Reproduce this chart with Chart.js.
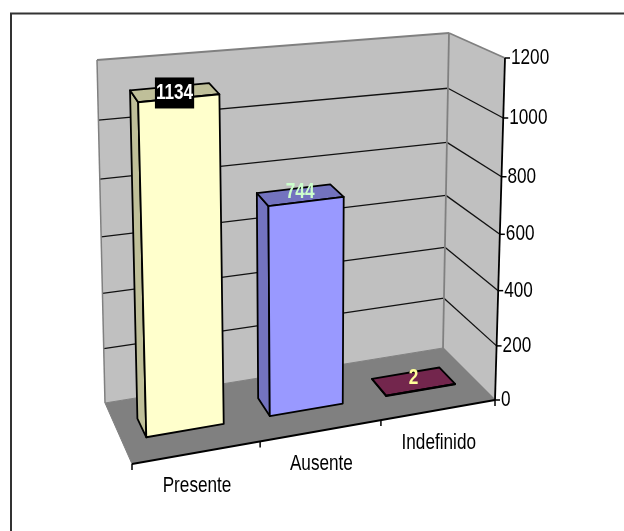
<!DOCTYPE html>
<html>
<head>
<meta charset="utf-8">
<style>
  html, body { margin: 0; padding: 0; background: #fff; }
  canvas { display: block; }
</style>
<script src="https://cdn.jsdelivr.net/npm/chart.js@4"></script>
</head>
<body>
<canvas id="chart" width="624" height="531"></canvas>
<script>
const categories = ['Presente', 'Ausente', 'Indefinido'];
const values = [1134, 744, 2];
const barColors = ['#FFFFCC', '#9999FF', '#993366'];
const labelColors = ['#FFFFFF', '#CCFFCC', '#FFFF99'];
const labelBackgrounds = ['#000000', null, null];
const axisMin = 0;
const axisMax = 1200;
const axisStep = 200;

// Corners of the 3D plot box on the page: [front/back][left/right], floor and ceiling.
const BOX = {
  floorFrontL: [132, 464], floorFrontR: [495, 400],
  floorBackL: [105, 403], floorBackR: [443, 348],
  topFrontL: [121, 98], topFrontR: [505, 58],
  topBackL: [97, 60], topBackR: [449, 33]
};
const PERSP_U = 0.091, PERSP_V = -0.06;
const BAR_FRONT = 0.37, BAR_BACK = 0.68;
const FONT_FAMILY = '"Liberation Sans", Arial, sans-serif';
const TEXT_SQUEEZE = 0.78;

const mix = (a, b, t) => [a[0] + (b[0] - a[0]) * t, a[1] + (b[1] - a[1]) * t];

// Maps (u along categories, v up the value axis, w into the depth) to the page.
function project(u, v, w) {
  const pu = u * (1 + PERSP_U) / (1 + PERSP_U * u);
  const pv = v * (1 + PERSP_V) / (1 + PERSP_V * v);
  const floor = mix(mix(BOX.floorFrontL, BOX.floorFrontR, pu), mix(BOX.floorBackL, BOX.floorBackR, pu), w);
  const top = mix(mix(BOX.topFrontL, BOX.topFrontR, pu), mix(BOX.topBackL, BOX.topBackR, pu), w);
  return mix(floor, top, pv);
}

function poly(ctx, pts, fill, stroke, lw) {
  ctx.beginPath();
  pts.forEach((p, i) => i ? ctx.lineTo(p[0], p[1]) : ctx.moveTo(p[0], p[1]));
  ctx.closePath();
  if (fill) { ctx.fillStyle = fill; ctx.fill(); }
  if (stroke) { ctx.strokeStyle = stroke; ctx.lineWidth = lw; ctx.lineJoin = 'round'; ctx.stroke(); }
}

function line(ctx, a, b, color, lw) {
  ctx.beginPath();
  ctx.moveTo(a[0], a[1]);
  ctx.lineTo(b[0], b[1]);
  ctx.strokeStyle = color;
  ctx.lineWidth = lw;
  ctx.stroke();
}

// Horizontally condensed text, as the chart's typeface is set tall and narrow.
function squeezedText(ctx, text, x, y) {
  ctx.save();
  ctx.translate(x, y);
  ctx.scale(TEXT_SQUEEZE, 1);
  ctx.fillText(text, 0, 0);
  ctx.restore();
}

function shade(hex, f) {
  const n = parseInt(hex.slice(1), 16);
  const c = [n >> 16, (n >> 8) & 255, n & 255].map(x => Math.round(x * f));
  return `rgb(${c[0]},${c[1]},${c[2]})`;
}

// Bar element that turns the rectangle laid out by the scales into a box in the projection.
class Box3DElement extends Chart.BarElement {
  draw(ctx) {
    const area = this.$context.chart.chartArea;
    const U = x => (x - area.left) / area.width;
    const V = y => (area.bottom - y) / area.height;
    const u0 = U(this.x - this.width / 2), u1 = U(this.x + this.width / 2);
    const v0 = V(this.base), v1 = V(this.y);
    const color = this.options.backgroundColor;
    const side = shade(color, 0.75);
    ctx.save();
    poly(ctx, [project(u0, v0, BAR_FRONT), project(u0, v0, BAR_BACK), project(u0, v1, BAR_BACK), project(u0, v1, BAR_FRONT)], side, '#000', 1.8);
    poly(ctx, [project(u0, v1, BAR_FRONT), project(u0, v1, BAR_BACK), project(u1, v1, BAR_BACK), project(u1, v1, BAR_FRONT)], side, '#000', 1.8);
    poly(ctx, [project(u0, v0, BAR_FRONT), project(u1, v0, BAR_FRONT), project(u1, v1, BAR_FRONT), project(u0, v1, BAR_FRONT)], color, '#000', 1.8);
    ctx.restore();
  }
}
Box3DElement.id = 'box3d';
Box3DElement.defaults = Chart.BarElement.defaults;
Box3DElement.defaultRoutes = Chart.BarElement.defaultRoutes;

class Box3DController extends Chart.BarController {}
Box3DController.id = 'box3d';
Box3DController.defaults = Object.assign({}, Chart.BarController.defaults, { dataElementType: 'box3d' });
Box3DController.overrides = Chart.BarController.overrides;
Chart.register(Box3DElement, Box3DController);

const scene = {
  id: 'scene',
  beforeDatasetsDraw(chart) {
    const { ctx, scales: { y }, chartArea: area } = chart;
    const vOf = t => (area.bottom - y.getPixelForValue(t)) / area.height;
    ctx.save();
    // Outline of the chart object: only its top and left edges fall on the page.
    line(ctx, [10, 13.5], [624, 13.5], '#333', 2);
    line(ctx, [11, 13], [11, 531], '#333', 2);
    // Walls and floor
    poly(ctx, [project(0, 0, 1), project(1, 0, 1), project(1, 1, 1), project(0, 1, 1)], '#C0C0C0');
    poly(ctx, [project(1, 0, 1), project(1, 0, 0), project(1, 1, 0), project(1, 1, 1)], '#C0C0C0');
    poly(ctx, [project(0, 0, 0), project(1, 0, 0), project(1, 0, 1), project(0, 0, 1)], '#808080');
    // Gridlines run along the back wall and then forward along the right wall
    y.ticks.forEach(t => {
      if (t.value === axisMin || t.value === axisMax) return;
      const v = vOf(t.value);
      line(ctx, project(0, v, 1), project(1, v, 1), '#111', 1.3);
      line(ctx, project(1, v, 1), project(1, v, 0), '#111', 1.3);
    });
    // Wall edges
    const edge = '#808080';
    line(ctx, project(0, 0, 1), project(0, 1, 1), edge, 1.5);
    line(ctx, project(0, 1, 1), project(1, 1, 1), edge, 1.8);
    line(ctx, project(1, 0, 1), project(1, 1, 1), edge, 1.8);
    line(ctx, project(1, 1, 1), project(1, 1, 0), edge, 1.8);
    line(ctx, project(0, 0, 1), project(1, 0, 1), edge, 1);
    line(ctx, project(1, 0, 1), project(1, 0, 0), edge, 1.5);
    line(ctx, project(0, 0, 1), project(0, 0, 0), edge, 1);
    ctx.restore();
  },
  afterDatasetsDraw(chart) {
    const { ctx, scales: { x, y }, chartArea: area } = chart;
    const vOf = t => (area.bottom - y.getPixelForValue(t)) / area.height;
    const uOf = p => (p - area.left) / area.width;
    ctx.save();
    // Value axis on the front right corner
    line(ctx, project(1, 0, 0), project(1, 1, 0), '#000', 1.8);
    ctx.textBaseline = 'middle';
    ctx.textAlign = 'left';
    ctx.font = `22px ${FONT_FAMILY}`;
    ctx.fillStyle = '#000';
    y.ticks.forEach(t => {
      const p = project(1, vOf(t.value), 0);
      line(ctx, p, [p[0] + 5, p[1]], '#000', 1.5);
      squeezedText(ctx, String(t.value), p[0] + 6, p[1]);
    });
    // Category axis on the front floor edge
    line(ctx, project(0, 0, 0), project(1, 0, 0), '#000', 1.8);
    for (let k = 0; k <= categories.length; k++) {
      const p = project(k / categories.length, 0, 0);
      line(ctx, p, [p[0], p[1] + 6], '#000', 1.5);
    }
    ctx.textAlign = 'center';
    x.ticks.forEach((t, i) => {
      const p = project(uOf(x.getPixelForTick(i)), 0, 0);
      squeezedText(ctx, categories[t.value], p[0], p[1] + 33);
    });
    // Value labels sit on the centre of each bar's top face
    ctx.font = `bold 22px ${FONT_FAMILY}`;
    chart.getDatasetMeta(0).data.forEach((bar, i) => {
      const p = project(uOf(bar.x), vOf(values[i]), (BAR_FRONT + BAR_BACK) / 2);
      const text = String(values[i]);
      if (labelBackgrounds[i]) {
        ctx.fillStyle = labelBackgrounds[i];
        const w = ctx.measureText(text).width * TEXT_SQUEEZE + 2;
        ctx.fillRect(p[0] - w / 2, p[1] - 15, w, 31);
      }
      ctx.fillStyle = labelColors[i];
      squeezedText(ctx, text, p[0], p[1] - (labelBackgrounds[i] ? 0 : 3));
    });
    ctx.restore();
  }
};

new Chart(document.getElementById('chart'), {
  type: 'box3d',
  data: {
    labels: categories,
    datasets: [{
      data: values,
      backgroundColor: barColors,
      categoryPercentage: 1,
      barPercentage: 0.62
    }]
  },
  options: {
    responsive: false,
    animation: false,
    layout: { padding: { left: 100, right: 100, top: 60, bottom: 60 } },
    plugins: { legend: { display: false }, tooltip: { enabled: false } },
    scales: {
      x: { display: false, type: 'category' },
      y: { display: false, min: axisMin, max: axisMax, ticks: { stepSize: axisStep } }
    }
  },
  plugins: [scene]
});
</script>
</body>
</html>
